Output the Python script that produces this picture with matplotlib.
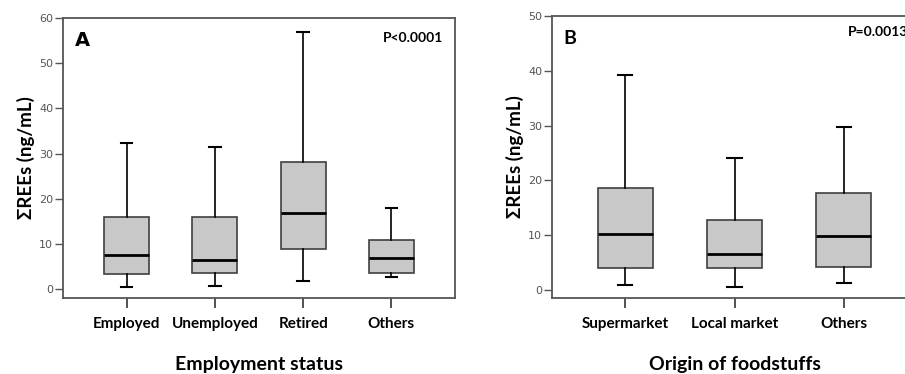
import matplotlib
matplotlib.use("Agg")
import matplotlib.pyplot as plt

# Panel A data
cats_a = ["Employed", "Unemployed", "Retired", "Others"]
lo_a = [0.5, 0.7, 1.8, 2.8]
q1_a = [3.5, 3.7, 8.9, 3.7]
med_a = [7.7, 6.5, 16.8, 7.0]
q3_a = [16.1, 16.1, 28.2, 10.9]
hi_a = [32.4, 31.5, 56.9, 18.0]

# Panel B data
cats_b = ["Supermarket", "Local market", "Others"]
lo_b = [0.9, 0.5, 1.3]
q1_b = [4.0, 3.9, 4.2]
med_b = [10.2, 6.6, 9.8]
q3_b = [18.5, 12.7, 17.7]
hi_b = [39.3, 24.0, 29.7]

FONT = "Lato"
fig = plt.figure(figsize=(9.05, 3.74), dpi=100)
W, H = 905, 374

def axes_px(l, t, r, b):
    return fig.add_axes([l / W, 1 - b / H, (r - l) / W, (b - t) / H])

def draw(ax, cats, lo, q1, med, q3, hi, ylim, xlim, yticks, width):
    stats = [dict(whislo=a, q1=b, med=c, q3=d, whishi=e, label=n)
             for a, b, c, d, e, n in zip(lo, q1, med, q3, hi, cats)]
    ax.bxp(stats, positions=range(1, len(cats) + 1), widths=width,
           showfliers=False, patch_artist=True,
           boxprops=dict(facecolor="#c8c8c8", edgecolor="#404040", linewidth=1.2),
           medianprops=dict(color="black", linewidth=2.0),
           whiskerprops=dict(color="black", linewidth=1.2),
           capprops=dict(color="black", linewidth=1.5), capwidths=0.13)
    ax.set_ylim(*ylim)
    ax.set_xlim(*xlim)
    ax.set_yticks(yticks)
    ax.set_yticklabels([str(v) for v in yticks], fontsize=8, color="#555555",
                       family="DejaVu Sans")
    ax.set_xticks(range(1, len(cats) + 1))
    ax.set_xticklabels(cats, fontsize=11, fontweight="bold", family=FONT)
    ax.tick_params(axis="y", direction="out", length=6, width=1.0, color="#555555", pad=1)
    ax.tick_params(axis="x", direction="out", length=7, width=1.2, color="#333333", pad=7)
    for s in ax.spines.values():
        s.set_color("#555555")
        s.set_linewidth(1.3)
    ax.set_ylabel("ΣREEs (ng/mL)", fontsize=13.5, fontweight="bold",
                  family=[FONT, "DejaVu Sans"], labelpad=3)

axA = axes_px(63, 18, 455, 298)
draw(axA, cats_a, lo_a, q1_a, med_a, q3_a, hi_a, (-1.9, 60), (0.28, 4.72),
     [0, 10, 20, 30, 40, 50, 60], 0.51)
axA.set_xlabel("Employment status", fontsize=14, fontweight="bold", family=FONT, labelpad=18)
axA.text(0.03, 0.92, "A", transform=axA.transAxes, fontsize=14, fontweight="bold",
         family="DejaVu Sans", va="center", ha="left")
axA.text(0.97, 0.93, "P<0.0001", transform=axA.transAxes, fontsize=10, fontweight="bold",
         family=FONT, va="center", ha="right")

axB = axes_px(552, 16, 917, 298)
draw(axB, cats_b, lo_b, q1_b, med_b, q3_b, hi_b, (-1.5, 50), (0.33, 3.67),
     [0, 10, 20, 30, 40, 50], 0.5)
axB.set_xlabel("Origin of foodstuffs", fontsize=14, fontweight="bold", family=FONT, labelpad=18)
axB.text(0.03, 0.92, "B", transform=axB.transAxes, fontsize=14, fontweight="bold",
         family=FONT, va="center", ha="left")
axB.text(848 / W, 1 - 32 / H, "P=0.0013", transform=fig.transFigure, fontsize=10,
         fontweight="bold", family=FONT, va="center", ha="left")

fig.savefig("out.png", dpi=100)
